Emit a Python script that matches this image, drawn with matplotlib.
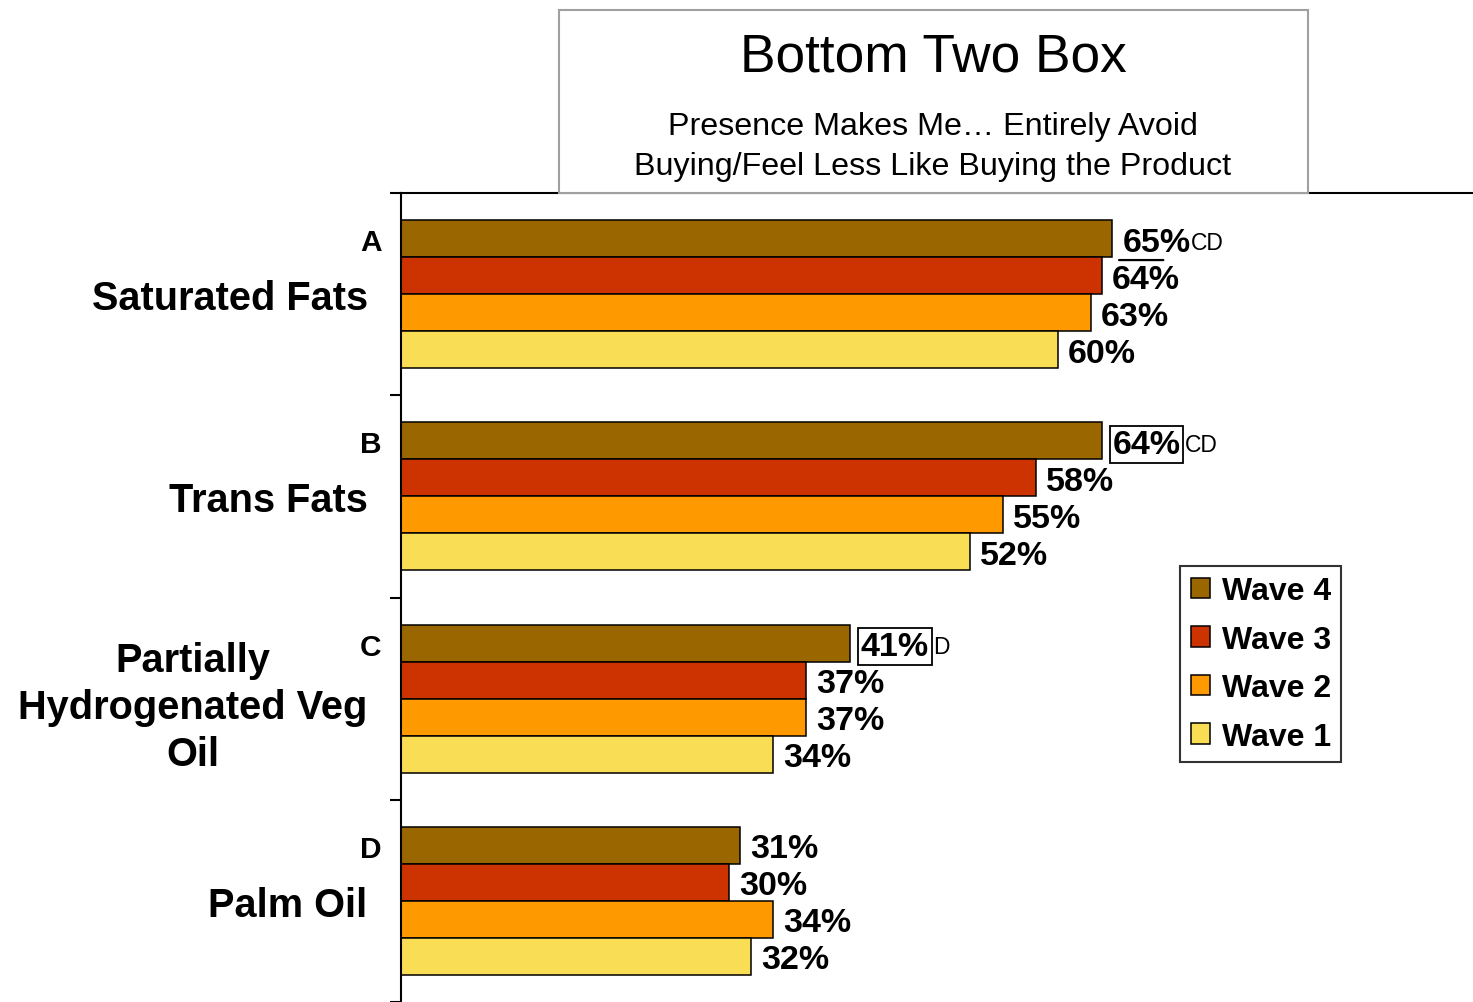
import matplotlib
matplotlib.use("Agg")
import matplotlib.pyplot as plt
import numpy as np
from matplotlib.patches import Rectangle

plt.rcParams['font.family'] = ['Liberation Sans', 'DejaVu Sans']

# --- data ---
categories = ["Saturated Fats", "Trans Fats", "Partially\nHydrogenated Veg\nOil", "Palm Oil"]
letters = ["A", "B", "C", "D"]
series_names = ["Wave 4", "Wave 3", "Wave 2", "Wave 1"]
wave4 = [65, 64, 41, 31]
wave3 = [64, 58, 37, 30]
wave2 = [63, 55, 37, 34]
wave1 = [60, 52, 34, 32]
# significance notes on the Wave 4 bars: (suffix, boxed, underlined)
wave4_notes = [("CD", False, True), ("CD", True, False), ("D", True, False), ("", False, False)]

colors = ["#996600", "#CC3300", "#FF9900", "#F9DE55"]

W, H = 1473, 1003
fig = plt.figure(figsize=(W / 100, H / 100), dpi=100)
ax = fig.add_axes([401 / W, 0, 1 - 401 / W, 1 - 194 / H])

y = np.arange(len(categories))
h = 0.183
series = [wave4, wave3, wave2, wave1]
for i, (vals, name, col) in enumerate(zip(series, series_names, colors)):
    pos = y + (i - 1.5) * h
    bars = ax.barh(pos, vals, height=h, color=col, edgecolor="black",
                   linewidth=1.1, label=name)
    for j, (b, v) in enumerate(zip(bars, vals)):
        suffix, boxed, underl = wave4_notes[j] if i == 0 else ("", False, False)
        off = 10 if not boxed else 11
        kw = {}
        if boxed:
            kw["bbox"] = dict(boxstyle="square,pad=0.08", fc="none", ec="black", lw=1.3)
        t = ax.annotate(f"{v}%", xy=(v, pos[j]), xytext=(off * 0.72, -2.5),
                        textcoords="offset points", ha="left", va="center",
                        fontsize=24.5, fontweight="bold", **kw)
        if suffix:
            ax.annotate(suffix, xy=(1, 0.5), xycoords=t, xytext=(3 if boxed else 0, 0),
                        textcoords="offset points", ha="left", va="center", fontsize=16.5)
        if underl:
            ax.annotate("", xy=(-0.05, -0.08), xycoords=t, xytext=(0.6, -0.08),
                        textcoords=t, arrowprops=dict(arrowstyle="-", lw=1.6,
                                                      color="black", shrinkA=0, shrinkB=0))
    if i == 0:
        for j, letter in enumerate(letters):
            ax.annotate(letter, xy=(0, pos[j]), xytext=(-14, -2.5), textcoords="offset points",
                        ha="right", va="center", fontsize=21.5, fontweight="bold")

ax.set_xlim(0, 97.94)
ax.set_ylim(3.5, -0.5)

# category labels at group centres, tick marks at group boundaries
ax.set_yticks(y)
ax.set_yticklabels(categories, fontsize=28.6, fontweight="bold")
for lab in ax.get_yticklabels():
    lab.set_multialignment("center")
    lab.set_linespacing(1.3)
ax.tick_params(axis="y", which="major", length=0, pad=24)
ax.set_yticks(np.arange(-0.5, 4.0, 1.0), minor=True)
ax.tick_params(axis="y", which="minor", length=8, width=1.5, direction="out")
ax.set_xticks([])

for s in ["right", "bottom"]:
    ax.spines[s].set_visible(False)
for s in ["left", "top"]:
    ax.spines[s].set_linewidth(1.5)

leg = ax.legend(loc="center left", bbox_to_anchor=(1180 / W, 1 - 665 / H),
                bbox_transform=fig.transFigure, prop=dict(size=23, weight="bold"),
                frameon=True, fancybox=False, handlelength=0.62, handleheight=0.62,
                handletextpad=0.35, labelspacing=0.58, borderpad=0.33, borderaxespad=0)
leg.get_frame().set_edgecolor("black")
leg.get_frame().set_linewidth(1.5)

# title box
fig.patches.append(Rectangle((559 / W, 1 - 194 / H), (1308 - 559) / W, (194 - 11) / H,
                             transform=fig.transFigure, fc="white", ec="#A0A0A0",
                             lw=1.5, zorder=5))
fig.text(933 / W, 1 - 58 / H, "Bottom Two Box", ha="center", va="center",
         fontsize=38.3, zorder=6)
fig.text(933 / W, 1 - 147 / H,
         "Presence Makes Me\u2026 Entirely Avoid\nBuying/Feel Less Like Buying the Product",
         ha="center", va="center", fontsize=23.2, linespacing=1.42, zorder=6)

fig.savefig("out.png", dpi=100)
